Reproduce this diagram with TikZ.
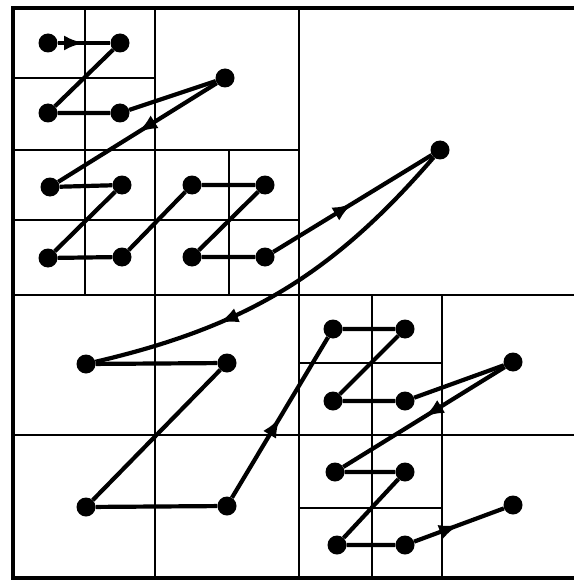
\documentclass[tikz,border=0pt]{standalone}
\usepackage{tikz}
\usetikzlibrary{arrows.meta, decorations.markings}

\tikzstyle{frame} = [line width=3.8pt]
\tikzstyle{grid} = [line width=2.5pt]
\tikzstyle{zdot} = [circle, fill=black, inner sep=0pt, minimum size=19pt]
\tikzstyle{link} = [line width=4.2pt, line join=round]
\tikzset{midarrow/.style={postaction={decorate},
  decoration={markings, mark=at position #1 with {\arrow{Latex[length=20pt,width=15pt]}}}}}

\begin{document}
\begin{tikzpicture}[x=1pt, y=-1pt]
  \useasboundingbox (0,0) rectangle (574,580);

  % Frame
  \draw[frame] (574,8) -- (13,8) -- (13,578) -- (574,578);

  % Quadrants
  \draw[grid] (13,295) -- (574,295);
  \draw[grid] (13,435) -- (574,435);
  \draw[grid] (299,8) -- (299,578);
  \draw[grid] (155,8) -- (155,578);

  % Upper left subdivisions
  \draw[grid] (85,8) -- (85,295);
  \draw[grid] (13,78) -- (155,78);
  \draw[grid] (13,150) -- (299,150);
  \draw[grid] (13,220) -- (299,220);
  \draw[grid] (229,150) -- (229,295);

  % Lower right subdivisions
  \draw[grid] (372,295) -- (372,578);
  \draw[grid] (442,295) -- (442,578);
  \draw[grid] (299,363) -- (442,363);
  \draw[grid] (299,508) -- (442,508);

  % Points
  \foreach \n/\x/\y in {a1/48/43, a2/120/43, a3/48/113, a4/120/113, b/225/78,
      c1/50/187, c2/122/185, c3/48/258, c4/122/257,
      d1/192/185, d2/265/185, d3/192/257, d4/265/257, e/440/150,
      f1/86/364, f2/227/363, f3/86/507, f4/227/506,
      g1/333/329, g2/405/329, g3/333/401, g4/405/401, h/513/362,
      i1/335/472, i2/405/472, i3/337/545, i4/405/545, j/513/505}
    \node[zdot] (\n) at (\x,\y) {};

  % Order
  \draw[link, midarrow=0.5] (a1) -- (a2);
  \draw[link] (a2) -- (a3) -- (a4) -- (b);
  \draw[link, midarrow=0.5] (b) -- (c1);
  \draw[link] (c1) -- (c2) -- (c3) -- (c4) -- (d1) -- (d2) -- (d3) -- (d4);
  \draw[link, midarrow=0.5] (d4) -- (e);
  \draw[link, midarrow=0.68] (e) to[bend left=18] (f1);
  \draw[link] (f1) -- (f2) -- (f3) -- (f4);
  \draw[link, midarrow=0.5] (f4) -- (g1);
  \draw[link] (g1) -- (g2) -- (g3) -- (g4) -- (h);
  \draw[link, midarrow=0.5] (h) -- (i1);
  \draw[link] (i1) -- (i2) -- (i3) -- (i4);
  \draw[link, midarrow=0.5] (i4) -- (j);

\end{tikzpicture}
\end{document}
